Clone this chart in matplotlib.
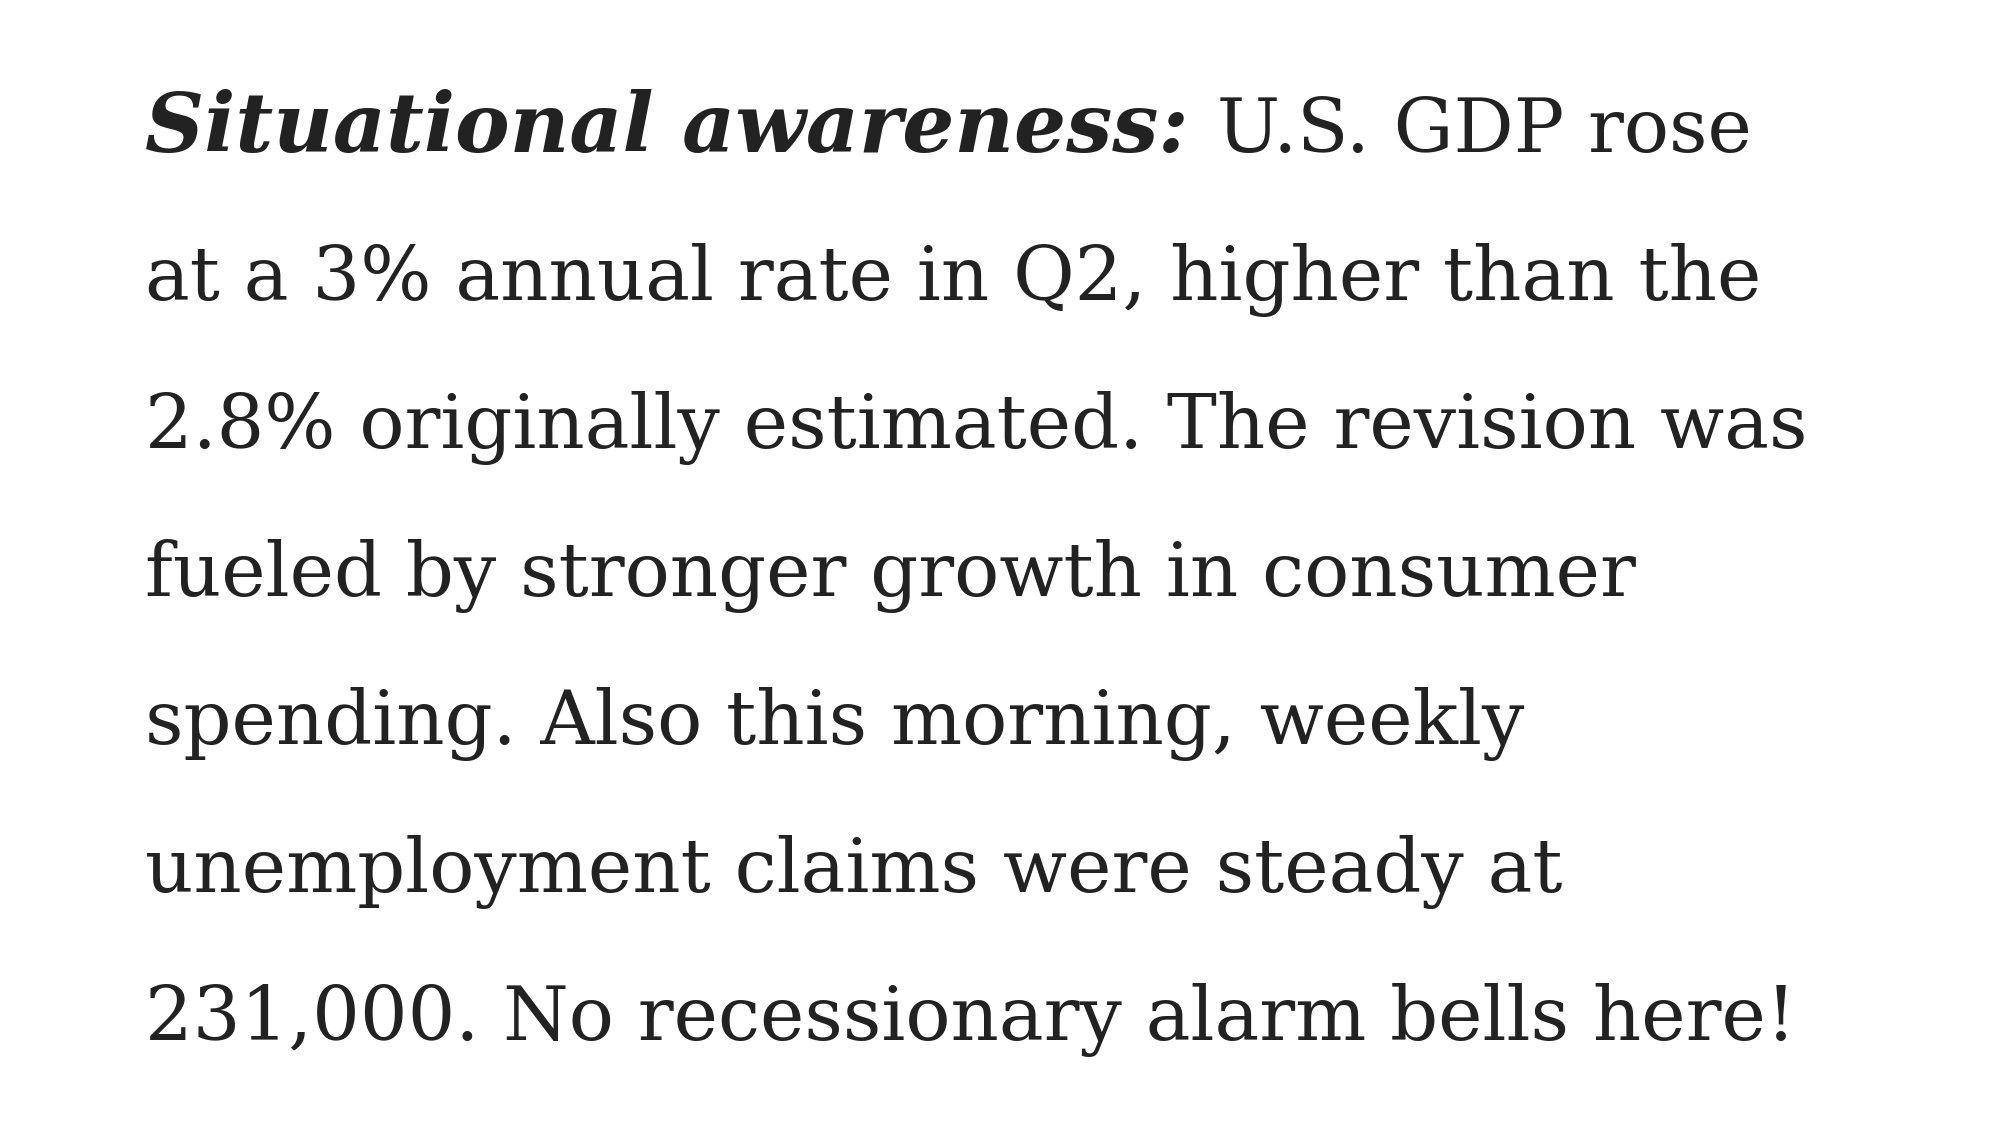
import matplotlib
matplotlib.use("Agg")
import matplotlib.pyplot as plt

# Texte du paragraphe
lead = "Situational awareness:"
lines = [
    " U.S. GDP rose",
    "at a 3% annual rate in Q2, higher than the",
    "2.8% originally estimated. The revision was",
    "fueled by stronger growth in consumer",
    "spending. Also this morning, weekly",
    "unemployment claims were steady at",
    "231,000. No recessionary alarm bells here!",
]

W, H = 2000, 1131
fig = plt.figure(figsize=(20, 11.31), dpi=100)
fig.patch.set_facecolor("white")

FAMILY = ["DejaVu Serif"]
LEAD_SIZE = 59
SIZE = 54
COLOR = "#222222"
x0 = 145
base0 = 152
step = 148

# Premiere ligne : amorce en gras italique, puis texte normal a la suite
t = fig.text(x0 / W, 1 - base0 / H, lead, fontsize=LEAD_SIZE, family=FAMILY,
             weight="bold", style="italic", color=COLOR, va="baseline", ha="left")
fig.canvas.draw()
bb = t.get_window_extent()
fig.text((bb.x1 + 4) / W, 1 - base0 / H, lines[0], fontsize=SIZE, family=FAMILY,
         color=COLOR, va="baseline", ha="left")

for i, line in enumerate(lines[1:], start=1):
    fig.text(x0 / W, 1 - (base0 + i * step) / H, line, fontsize=SIZE,
             family=FAMILY, color=COLOR, va="baseline", ha="left")

fig.savefig("out.png", dpi=100, facecolor="white")
